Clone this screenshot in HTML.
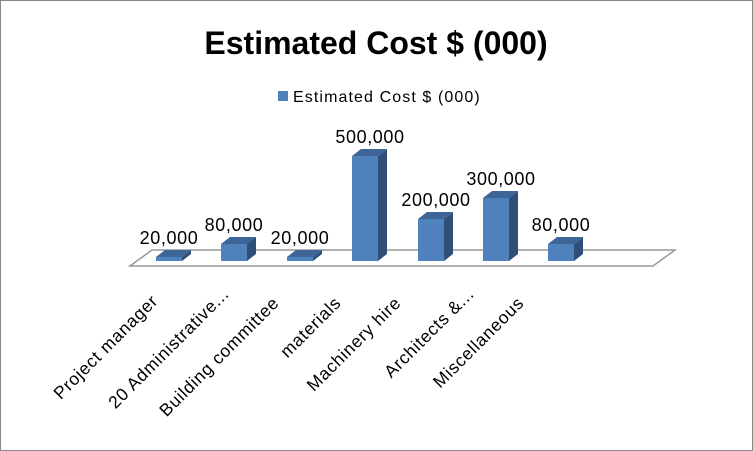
<!DOCTYPE html>
<html><head><style>
body{margin:0;background:#fff}
svg{display:block;font-family:"Liberation Sans",sans-serif}
</style></head><body>
<svg width="753" height="451" viewBox="0 0 753 451">
<rect x="0.5" y="0.5" width="752" height="450" fill="#fff" stroke="#888"/>
<text x="376" y="54" text-anchor="middle" font-size="32" font-weight="bold">Estimated Cost $ (000)</text>
<rect x="278" y="91" width="10" height="10" fill="#4f81bd"/>
<text x="293" y="102" font-size="16" letter-spacing="1.1">Estimated Cost $ (000)</text>
<polygon points="130,266 152,250 675,250 653,266" fill="#fff" stroke="#999" stroke-width="1.5"/>

<g>
<polygon points="182,261 191,254 191,250 182,257" fill="#2f4f78"/>
<polygon points="156,257 165,250 191,250 182,257" fill="#3d6598"/>
<rect x="156" y="257" width="26" height="4" fill="#4f81bd"/>

<polygon points="247,261 256,254 256,237 247,244" fill="#2f4f78"/>
<polygon points="221,244 230,237 256,237 247,244" fill="#3d6598"/>
<rect x="221" y="244" width="26" height="17" fill="#4f81bd"/>

<polygon points="313,261 322,254 322,250 313,257" fill="#2f4f78"/>
<polygon points="287,257 296,250 322,250 313,257" fill="#3d6598"/>
<rect x="287" y="257" width="26" height="4" fill="#4f81bd"/>

<polygon points="378,261 387,254 387,149 378,156" fill="#2f4f78"/>
<polygon points="352,156 361,149 387,149 378,156" fill="#3d6598"/>
<rect x="352" y="156" width="26" height="105" fill="#4f81bd"/>

<polygon points="444,261 453,254 453,212 444,219" fill="#2f4f78"/>
<polygon points="418,219 427,212 453,212 444,219" fill="#3d6598"/>
<rect x="418" y="219" width="26" height="42" fill="#4f81bd"/>

<polygon points="509,261 518,254 518,191 509,198" fill="#2f4f78"/>
<polygon points="483,198 492,191 518,191 509,198" fill="#3d6598"/>
<rect x="483" y="198" width="26" height="63" fill="#4f81bd"/>

<polygon points="574,261 583,254 583,237 574,244" fill="#2f4f78"/>
<polygon points="548,244 557,237 583,237 574,244" fill="#3d6598"/>
<rect x="548" y="244" width="26" height="17" fill="#4f81bd"/>
</g>

<g font-size="18" text-anchor="middle" letter-spacing="0.6">
<text x="169" y="244">20,000</text>
<text x="234" y="231">80,000</text>
<text x="300" y="244">20,000</text>
<text x="370" y="143">500,000</text>
<text x="436" y="206">200,000</text>
<text x="501" y="185">300,000</text>
<text x="561" y="231">80,000</text>
</g>

<g font-size="17.5" text-anchor="end" letter-spacing="0.7">
<text x="159" y="302" transform="rotate(-45 159 302)">Project manager</text>
<text x="230" y="295" transform="rotate(-45 230 295)">20 Administrative...</text>
<text x="280" y="304" transform="rotate(-45 280 304)">Building  committee</text>
<text x="342" y="304" transform="rotate(-45 342 304)">materials</text>
<text x="402" y="304" transform="rotate(-45 402 304)">Machinery hire</text>
<text x="475" y="295" transform="rotate(-45 475 295)">Architects  &amp;...</text>
<text x="525" y="304" transform="rotate(-45 525 304)">Miscellaneous</text>
</g>
</svg>
</body></html>
